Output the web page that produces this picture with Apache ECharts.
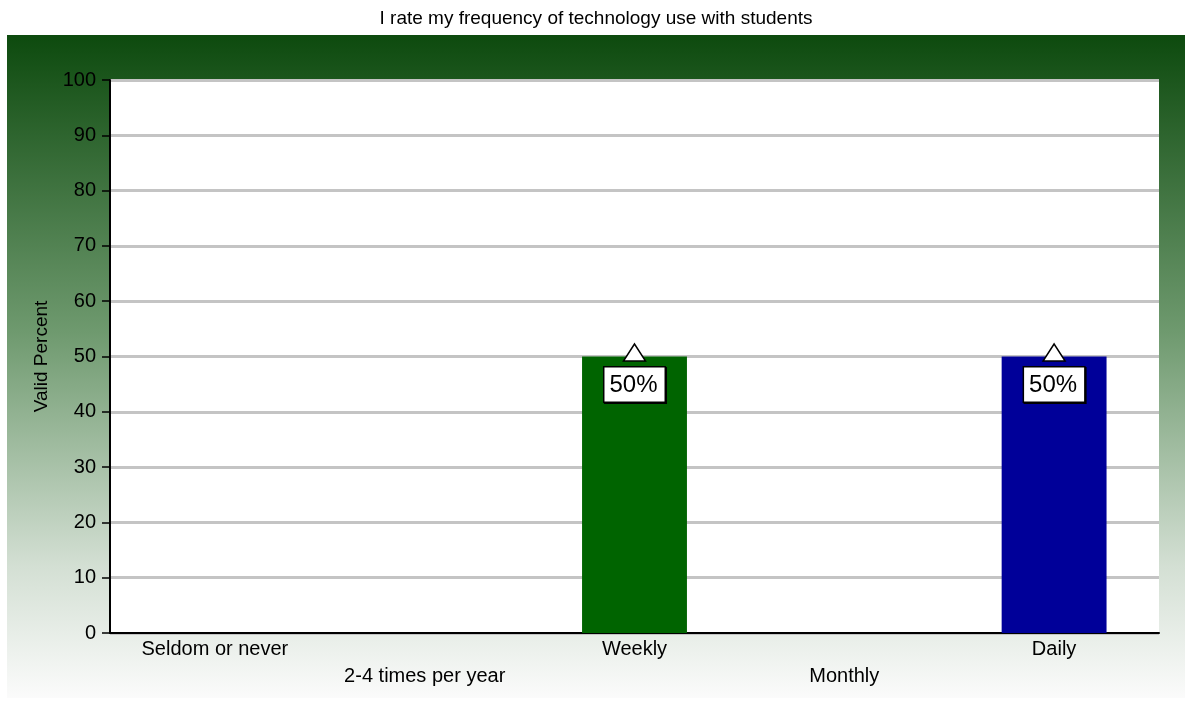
<!DOCTYPE html>
<html>
<head>
<meta charset="utf-8">
<script src="https://cdn.jsdelivr.net/npm/echarts@6/dist/echarts.min.js"></script>
<style>
  html, body { margin: 0; padding: 0; background: #fff; }
  #chart { width: 1192px; height: 705px; }
</style>
</head>
<body>
<div id="chart"></div>
<script>
// frequency categories and valid percent
const categories = ['Seldom or never', '2-4 times per year', 'Weekly', 'Monthly', 'Daily'];
const percents = [null, null, 50, null, 50];
const barColors = ['#006400', '#006400', '#006400', '#000099', '#000099'];
const yTicks = { min: 0, max: 100, interval: 10 };

const chart = echarts.init(document.getElementById('chart'), null, { renderer: 'canvas' });

chart.setOption({
  animation: false,
  backgroundColor: '#fff',
  graphic: [{
    type: 'rect',
    z: -10,
    shape: { x: 7, y: 35, width: 1178, height: 663 },
    style: {
      fill: new echarts.graphic.LinearGradient(0, 0, 0, 1, [
        { offset: 0, color: '#0d4a0e' },
        { offset: 0.45, color: '#6f9a6f' },
        { offset: 0.8, color: '#d3dfd3' },
        { offset: 1, color: '#fbfbfb' }
      ])
    }
  }],
  title: {
    text: 'I rate my frequency of technology use with students',
    left: 'center',
    top: 4,
    textStyle: { fontFamily: 'Liberation Sans', fontSize: 19, fontWeight: 'normal', color: '#000' }
  },
  grid: { left: 110, right: 33, top: 80, bottom: 72, show: true, backgroundColor: '#fff', borderWidth: 0 },
  xAxis: {
    type: 'category',
    data: categories,
    axisLine: { lineStyle: { color: '#000', width: 2 } },
    axisTick: { show: false },
    axisLabel: {
      interval: 0,
      color: '#000',
      fontFamily: 'Liberation Sans',
      fontSize: 20,
      lineHeight: 27,
      margin: 3,
      formatter: (v, i) => (i % 2 ? '\n' + v : v)
    }
  },
  yAxis: {
    type: 'value',
    min: yTicks.min,
    max: yTicks.max,
    interval: yTicks.interval,
    name: 'Valid Percent',
    nameLocation: 'middle',
    nameGap: 58,
    nameTextStyle: { fontFamily: 'Liberation Sans', fontSize: 19, color: '#000' },
    axisLine: { show: true, lineStyle: { color: '#000', width: 2 } },
    axisTick: { show: true, length: 8, lineStyle: { color: '#000', width: 1.5 } },
    axisLabel: { color: '#000', fontFamily: 'Liberation Sans', fontSize: 20, margin: 14 },
    splitLine: { lineStyle: { color: '#c4c4c4', width: 3 } }
  },
  series: [{
    type: 'bar',
    barWidth: '50%',
    data: percents.map((v, i) => ({ value: v, itemStyle: { color: barColors[i] } })),
    label: {
      show: true,
      position: 'insideTop',
      distance: 11,
      formatter: p => p.value + '%',
      color: '#000',
      fontFamily: 'Liberation Sans',
      fontSize: 24,
      lineHeight: 28,
      backgroundColor: '#fff',
      borderColor: '#000',
      borderWidth: 1.5,
      padding: [4, 7, 2, 5],
      shadowColor: '#000',
      shadowOffsetX: 1,
      shadowOffsetY: 1
    }
  }, {
    type: 'scatter',
    symbol: 'triangle',
    symbolSize: [22, 17],
    symbolOffset: [0, -4],
    data: percents,
    itemStyle: { color: '#fff', borderColor: '#000', borderWidth: 1.5, opacity: 1 },
    z: 5
  }]
});
</script>
</body>
</html>
